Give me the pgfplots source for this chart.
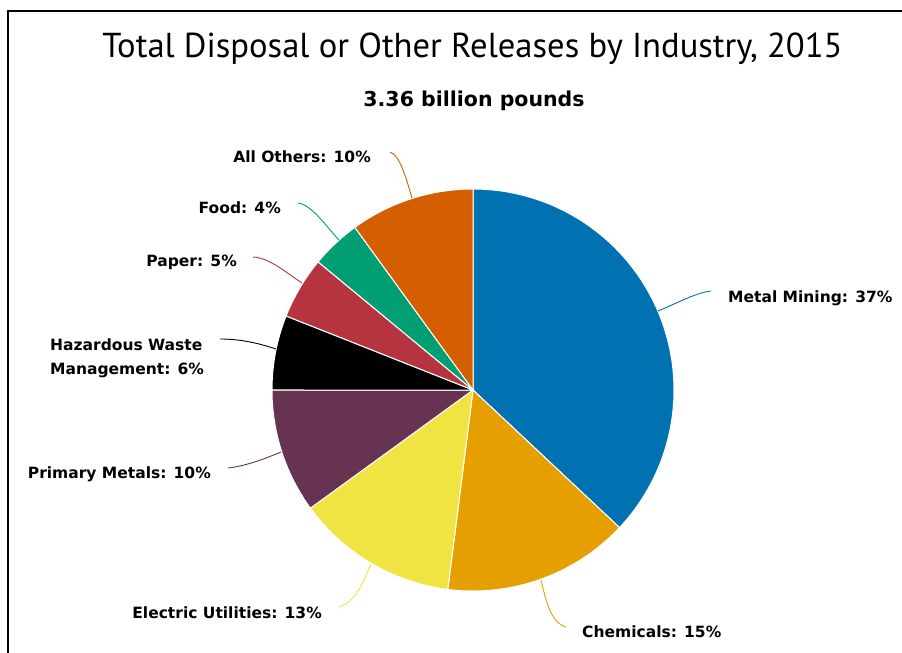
\documentclass[border=0pt]{standalone}
\usepackage{pgfplots}
\usepackage{pgfplotstable}
\pgfplotsset{compat=1.18}
\usepackage{fontspec}
\setmainfont{PT Sans}
\newfontfamily\labfont{DejaVu Sans}
\definecolor{cMM}{HTML}{0072B2}
\definecolor{cCh}{HTML}{E69F00}
\definecolor{cEU}{HTML}{F0E442}
\definecolor{cPM}{HTML}{673352}
\definecolor{cHW}{HTML}{000000}
\definecolor{cPa}{HTML}{B5343F}
\definecolor{cFo}{HTML}{009E73}
\definecolor{cAO}{HTML}{D55E00}
\pgfplotstableread{
share col
37 cMM
15 cCh
13 cEU
10 cPM
6 cHW
5 cPa
4 cFo
10 cAO
}\piedata
\newcommand\lab{\labfont\fontsize{15.5}{19}\selectfont\bfseries}
\begin{document}
\begin{tikzpicture}
\begin{axis}[
  width=902pt, height=653pt, scale only axis,
  xmin=0, xmax=902, ymin=0, ymax=653, y dir=reverse,
  hide axis, clip=false]
\xdef\startang{90}
\pgfplotsforeachungrouped \i in {0,...,7}{%
  \pgfplotstablegetelem{\i}{share}\of\piedata \let\share\pgfplotsretval
  \pgfplotstablegetelem{\i}{col}\of\piedata \let\col\pgfplotsretval
  \pgfmathsetmacro\endang{\startang-3.6*\share}%
  \edef\temp{\noexpand\addplot[fill=\col, draw=white, line width=1pt, line join=round, domain=\endang:\startang, samples=90] ({473+201*cos(x)}, {390-201*sin(x)}) -- (axis cs:473,390) -- cycle;}%
  \temp
  \xdef\startang{\endang}%
}
% connectors
\draw[cMM, line width=0.9pt] (axis cs:658,311) .. controls (axis cs:680,302) and (axis cs:695,293) .. (axis cs:711,291);
\draw[cCh, line width=0.9pt] (axis cs:541,580) .. controls (axis cs:546,600) and (axis cs:550,622) .. (axis cs:566,627);
\draw[cEU, line width=0.9pt] (axis cs:371,564) .. controls (axis cs:362,585) and (axis cs:355,603) .. (axis cs:338,607);
\draw[cPM, line width=0.9pt] (axis cs:281,452) .. controls (axis cs:262,460) and (axis cs:245,466) .. (axis cs:228,468);
\draw[cHW, line width=0.9pt] (axis cs:276,349) .. controls (axis cs:258,343) and (axis cs:240,339) .. (axis cs:220,339);
\draw[cPa, line width=0.9pt] (axis cs:302,283) .. controls (axis cs:285,272) and (axis cs:270,258) .. (axis cs:253,257);
\draw[cFo, line width=0.9pt] (axis cs:339,240) .. controls (axis cs:325,225) and (axis cs:312,205) .. (axis cs:298,203);
\draw[cAO, line width=0.9pt] (axis cs:412,198) .. controls (axis cs:406,178) and (axis cs:400,155) .. (axis cs:390,152);
% labels
\node[anchor=base west, inner sep=0, font=\lab] at (axis cs:728,302) {Metal Mining: 37\%};
\node[anchor=base west, inner sep=0, font=\lab] at (axis cs:582,637) {Chemicals: 15\%};
\node[anchor=base east, inner sep=0, font=\lab] at (axis cs:322,618) {Electric Utilities: 13\%};
\node[anchor=base east, inner sep=0, font=\lab] at (axis cs:211,478) {Primary Metals: 10\%};
\node[anchor=base west, inner sep=0, font=\lab] at (axis cs:50,350) {Hazardous Waste};
\node[anchor=base west, inner sep=0, font=\lab] at (axis cs:50,374) {Management: 6\%};
\node[anchor=base east, inner sep=0, font=\lab] at (axis cs:237,266) {Paper: 5\%};
\node[anchor=base east, inner sep=0, font=\lab] at (axis cs:281,213) {Food: 4\%};
\node[anchor=base east, inner sep=0, font=\lab] at (axis cs:371,162) {All Others: 10\%};
% titles
\node[anchor=base, inner sep=0, font=\fontsize{34.6}{40}\selectfont] at (axis cs:472.5,57) {Total Disposal or Other Releases by Industry, 2015};
\node[anchor=base, inner sep=0, font=\labfont\fontsize{20.5}{24}\selectfont\bfseries] at (axis cs:474,106) {3.36 billion pounds};
% frame
\draw[black, line width=2pt] (axis cs:8,660) -- (axis cs:8,11) -- (axis cs:910,11);
\end{axis}
\pgfresetboundingbox
\useasboundingbox (0,0) rectangle (902pt,653pt);
\end{tikzpicture}
\end{document}
